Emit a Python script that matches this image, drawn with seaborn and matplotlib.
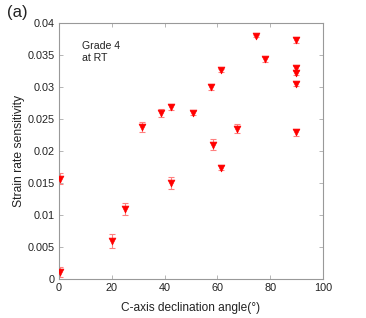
import matplotlib
matplotlib.use("Agg")
import matplotlib.pyplot as plt
import seaborn as sns
import pandas as pd
import numpy as np

angle = [0.4, 0.4, 20.2, 24.9, 31.6, 38.5, 42.6, 42.6, 50.7, 57.7, 58.2,
         61.4, 61.4, 67.5, 74.6, 78.2, 89.8, 89.8, 89.8, 89.8, 89.8]
srs = [0.0011, 0.0157, 0.0059, 0.0109, 0.0237, 0.0259, 0.0269, 0.0150, 0.0260,
       0.0300, 0.0210, 0.0326, 0.0174, 0.0235, 0.0380, 0.0343, 0.0373, 0.0330,
       0.0322, 0.0305, 0.0229]
err = [0.0008, 0.0009, 0.0011, 0.0009, 0.0008, 0.0006, 0.0005, 0.0009, 0.0003,
       0.0005, 0.0008, 0.0002, 0.0004, 0.0007, 0.0002, 0.0004, 0.0005, 0.0003,
       0.0003, 0.0003, 0.0005]
xticks = [0, 20, 40, 60, 80, 100]
yticks = [0, 0.005, 0.01, 0.015, 0.02, 0.025, 0.03, 0.035, 0.04]
ytick_labels = ["0", "0.005", "0.01", "0.015", "0.02", "0.025", "0.03", "0.035", "0.04"]

df = pd.DataFrame({"angle": angle, "srs": srs, "err": err})

sns.set_style("white")
plt.rcParams['font.family'] = ['Liberation Sans', 'DejaVu Sans']

fig = plt.figure(figsize=(3.66, 3.18), dpi=100)
ax = fig.add_axes([0.161, 0.1226, 0.7215, 0.8051])

ax.errorbar(df["angle"], df["srs"], yerr=df["err"], fmt="none",
            ecolor=(1.0, 0.5, 0.5), elinewidth=0.8, capsize=2, capthick=0.8, zorder=2)
sns.scatterplot(data=df, x="angle", y="srs", marker="v", color="red",
                edgecolor="red", s=24, linewidth=0.5, ax=ax, zorder=3)

ax.set_xlim(0, 100)
ax.set_ylim(0, 0.04)
ax.set_xticks(xticks)
ax.set_xticklabels([str(t) for t in xticks])
ax.set_yticks(yticks)
ax.set_yticklabels(ytick_labels)
ax.tick_params(direction="in", length=3, width=0.6, color="#aaaaaa",
               labelsize=7.8, labelcolor="#222222", top=True, right=True,
               bottom=True, left=True, pad=3)
for s in ax.spines.values():
    s.set_color("#999999")
    s.set_linewidth(0.8)
    s.set_visible(True)

ax.set_xlabel("C-axis declination angle(°)", fontsize=8.6, color="#222222", labelpad=6)
ax.set_ylabel("Strain rate sensitivity", fontsize=8.7, color="#222222", labelpad=2)

ax.text(0.086, 0.93, "Grade 4\nat RT", transform=ax.transAxes, fontsize=7.6,
        va="top", ha="left", color="#222222", linespacing=1.3)
fig.text(0.02, 0.985, "(a)", fontsize=12, va="top", ha="left", color="#222222")

fig.savefig("out.png", dpi=100)
